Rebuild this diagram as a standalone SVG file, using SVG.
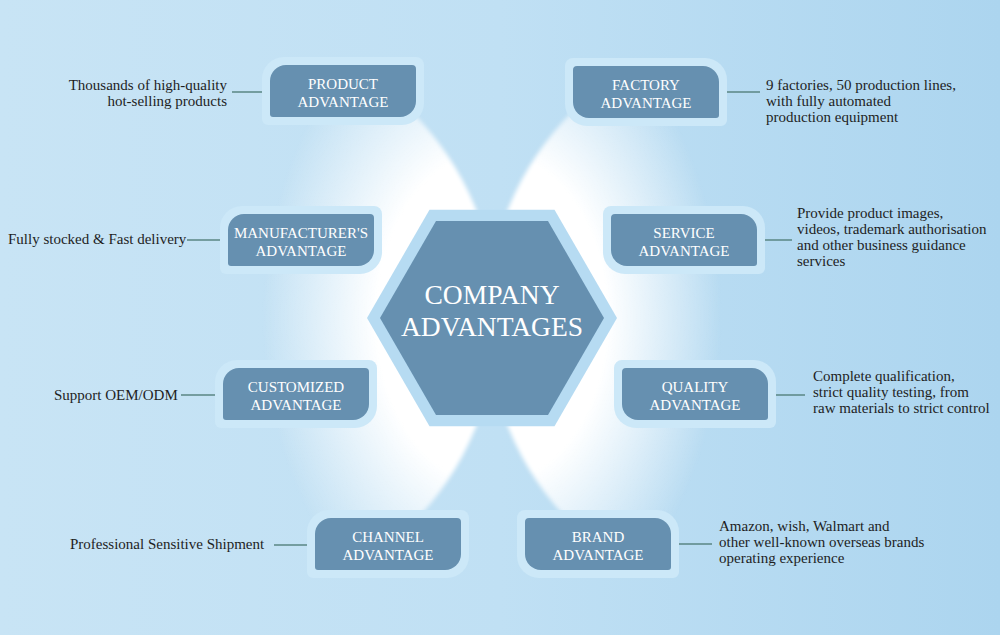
<svg xmlns="http://www.w3.org/2000/svg" width="1000" height="635" viewBox="0 0 1000 635">
<defs>
<linearGradient id="bg" x1="0" y1="0" x2="1" y2="0">
<stop offset="0" stop-color="#c8e4f5"/>
<stop offset="0.5" stop-color="#c0e0f4"/>
<stop offset="1" stop-color="#acd5ef"/>
</linearGradient>
<radialGradient id="glow" gradientUnits="userSpaceOnUse" cx="492" cy="318" r="230" gradientTransform="translate(492 318) scale(1 1.43) translate(-492 -318)">
<stop offset="0" stop-color="#ffffff" stop-opacity="1"/>
<stop offset="0.5" stop-color="#ffffff" stop-opacity="1"/>
<stop offset="1" stop-color="#ffffff" stop-opacity="0"/>
</radialGradient>
<filter id="soft" x="-10%" y="-10%" width="120%" height="120%">
<feGaussianBlur stdDeviation="2"/>
</filter>
<mask id="lobes" maskUnits="userSpaceOnUse" x="0" y="0" width="1000" height="635">
<g filter="url(#soft)">
<circle cx="205" cy="318" r="292" fill="#ffffff"/>
<circle cx="779" cy="318" r="292" fill="#ffffff"/>
</g>
</mask>
<path id="frameL" d="M14,-8 H146 A8,8 0 0 1 154,0 V38 A22,22 0 0 1 132,60 H-2 A6,6 0 0 1 -8,54 V14 A22,22 0 0 1 14,-8 Z"/>
<path id="boxL" d="M16,0 H142 A4,4 0 0 1 146,4 V36 A16,16 0 0 1 130,52 H3 A3,3 0 0 1 0,49 V16 A16,16 0 0 1 16,0 Z"/>
<g id="shapeL"><use href="#frameL" class="frame"/><use href="#boxL" class="box"/></g>
</defs>
<style>
.frame{fill:#cce8f8;}
.box{fill:#6690b0;}
.lbl{font-family:"Liberation Serif",serif;font-size:15px;fill:#ffffff;text-anchor:middle;}
.desc{font-family:"Liberation Serif",serif;font-size:15px;fill:#1e1e1e;}
.conn line{stroke:#5a8683;stroke-width:1.5;}
.title{font-family:"Liberation Serif",serif;font-size:27.5px;fill:#ffffff;text-anchor:middle;}
</style>
<rect x="0" y="0" width="1000" height="635" fill="url(#bg)"/>
<rect x="0" y="0" width="1000" height="635" fill="url(#glow)" mask="url(#lobes)"/>

<g id="connectors" class="conn">
<line x1="232" y1="92" x2="262" y2="92"/>
<line x1="727" y1="92" x2="760" y2="92"/>
<line x1="187" y1="240" x2="220" y2="240"/>
<line x1="765" y1="240" x2="792" y2="240"/>
<line x1="181" y1="395" x2="215" y2="395"/>
<line x1="775" y1="395" x2="805" y2="395"/>
<line x1="274" y1="545" x2="307" y2="545"/>
<line x1="679" y1="544" x2="712" y2="544"/>
</g>

<g id="center">
<polygon points="367,318 429.5,209.7 554.5,209.7 617,318 554.5,426.3 429.5,426.3" fill="#b6dbf2"/>
<polygon points="380,318 436,221 548,221 604,318 548,415 436,415" fill="#6690b0"/>
<text class="title" x="492" y="304">COMPANY</text>
<text class="title" x="492" y="336">ADVANTAGES</text>
</g>

<g id="product">
<use href="#shapeL" transform="translate(270,65)"/>
<text class="lbl" x="343" y="89">PRODUCT</text>
<text class="lbl" x="343" y="107">ADVANTAGE</text>
<text class="desc" x="227" y="90" text-anchor="end">Thousands of high-quality</text>
<text class="desc" x="227" y="106" text-anchor="end">hot-selling products</text>
</g>

<g id="manufacturer">
<use href="#shapeL" transform="translate(228,214)"/>
<text class="lbl" x="301" y="238">MANUFACTURER'S</text>
<text class="lbl" x="301" y="256">ADVANTAGE</text>
<text class="desc" x="8" y="244">Fully stocked &amp; Fast delivery</text>
</g>

<g id="customized">
<use href="#shapeL" transform="translate(223,368)"/>
<text class="lbl" x="296" y="392">CUSTOMIZED</text>
<text class="lbl" x="296" y="410">ADVANTAGE</text>
<text class="desc" x="54" y="400">Support OEM/ODM</text>
</g>

<g id="channel">
<use href="#shapeL" transform="translate(315,518)"/>
<text class="lbl" x="388" y="542">CHANNEL</text>
<text class="lbl" x="388" y="560">ADVANTAGE</text>
<text class="desc" x="70" y="549">Professional Sensitive Shipment</text>
</g>

<g id="factory">
<use href="#shapeL" transform="translate(719,66) scale(-1,1)"/>
<text class="lbl" x="646" y="90">FACTORY</text>
<text class="lbl" x="646" y="108">ADVANTAGE</text>
<text class="desc" x="766" y="90">9 factories, 50 production lines,</text>
<text class="desc" x="766" y="106">with fully automated</text>
<text class="desc" x="766" y="122">production equipment</text>
</g>

<g id="service">
<use href="#shapeL" transform="translate(757,214) scale(-1,1)"/>
<text class="lbl" x="684" y="238">SERVICE</text>
<text class="lbl" x="684" y="256">ADVANTAGE</text>
<text class="desc" x="797" y="218">Provide product images,</text>
<text class="desc" x="797" y="234">videos, trademark authorisation</text>
<text class="desc" x="797" y="250">and other business guidance</text>
<text class="desc" x="797" y="266">services</text>
</g>

<g id="quality">
<use href="#shapeL" transform="translate(768,368) scale(-1,1)"/>
<text class="lbl" x="695" y="392">QUALITY</text>
<text class="lbl" x="695" y="410">ADVANTAGE</text>
<text class="desc" x="813" y="381">Complete qualification,</text>
<text class="desc" x="813" y="397">strict quality testing, from</text>
<text class="desc" x="813" y="413">raw materials to strict control</text>
</g>

<g id="brand">
<use href="#shapeL" transform="translate(671,518) scale(-1,1)"/>
<text class="lbl" x="598" y="542">BRAND</text>
<text class="lbl" x="598" y="560">ADVANTAGE</text>
<text class="desc" x="719" y="531">Amazon, wish, Walmart and</text>
<text class="desc" x="719" y="547">other well-known overseas brands</text>
<text class="desc" x="719" y="563">operating experience</text>
</g>
</svg>
